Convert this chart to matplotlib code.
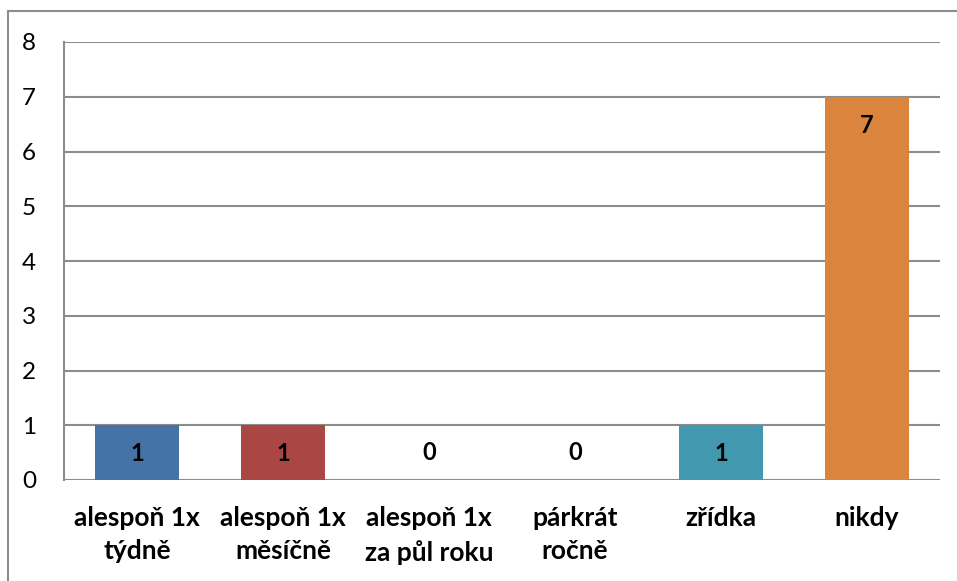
import matplotlib.pyplot as plt
from matplotlib.patches import Rectangle

plt.rcParams['font.family'] = ['Lato', 'DejaVu Sans']

categories = ['alespoň 1x\ntýdně', 'alespoň 1x\nměsíčně', 'alespoň 1x\nza půl roku',
              'párkrát\nročně', 'zřídka', 'nikdy']
values = [1, 1, 0, 0, 1, 7]
colors = ['#4572a7', '#aa4643', '#89a54e', '#71588f', '#4198af', '#db843d']
y_ticks = list(range(0, 9))

fig = plt.figure(figsize=(9.57, 5.81), dpi=100)
ax = fig.add_axes([64 / 957, 1 - 480 / 581, (940 - 64) / 957, (480 - 42) / 581])

x = list(range(len(categories)))
bars = ax.bar(x, values, width=0.57, color=colors, zorder=3)

for xi, v in zip(x, values):
    # label sits inside the bar near its top; zero values at bar base
    y = v - 0.52 if v > 0 else 0.5
    ax.text(xi, y, str(v), ha='center', va='center', fontsize=17,
            fontweight='bold', color='black', zorder=4)

ax.set_xlim(-0.5, len(categories) - 0.5)
ax.set_ylim(0, 8)
ax.set_yticks(y_ticks)
ax.set_yticklabels([str(t) for t in y_ticks], fontsize=17.5)
ax.set_xticks(x)
ax.set_xticklabels(categories, fontsize=19, fontweight='bold', linespacing=1.45)
ax.tick_params(axis='y', length=0, pad=20)
ax.tick_params(axis='x', length=0, pad=19)
ax.grid(axis='y', color='#8c8c8c', linewidth=1.5, zorder=0)
for s in ['top', 'right', 'bottom']:
    ax.spines[s].set_visible(False)
ax.spines['left'].set_color('#8c8c8c')
ax.spines['left'].set_linewidth(1.5)

# outer chart frame
fig.patches.append(Rectangle((8 / 957, -0.1), 1.2, 1 - 11 / 581 + 0.1,
                             transform=fig.transFigure, fill=False,
                             edgecolor='#8c8c8c', linewidth=1.5))

fig.savefig('out.png', dpi=100)
